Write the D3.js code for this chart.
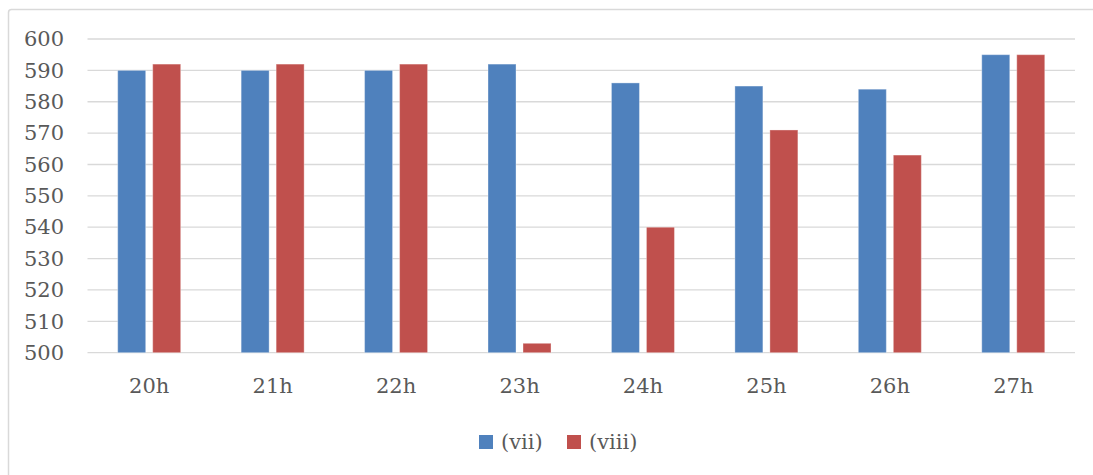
<!DOCTYPE html>
<html><head><meta charset="utf-8">
<script src="https://cdn.jsdelivr.net/npm/d3@7"></script>
<style>body{margin:0;background:#fff}svg{display:block}</style>
</head><body>
<svg id="c" width="1093" height="475"></svg>
<script>
const categories = ["20h","21h","22h","23h","24h","25h","26h","27h"];
const seriesNames = ["(vii)","(viii)"];
const vii  = [590,590,590,592,586,585,584,595];
const viii = [592,592,592,503,540,571,563,595];
const yTicks = [500,510,520,530,540,550,560,570,580,590,600];
const colors = ["#4F81BD","#C0504D"];

(function(){
const svg = d3.select("#c");
const font = "'DejaVu Serif', serif";
const fs = 21;
const textColor = "#595959";

// outer frame
svg.append("rect").attr("x",8.5).attr("y",9.5).attr("width",1200).attr("height",600)
  .attr("rx",3).attr("fill","#fff").attr("stroke","#d9d9d9").attr("stroke-width",1.5);

const pL = 87.5, pR = 1075, pT = 39, pB = 352.7;
const x0 = d3.scaleBand().domain(categories).range([pL,pR]).padding(0);
const x1 = d3.scaleBand().domain(seriesNames).range([30.2,93.2]).paddingInner(0.2).paddingOuter(0);
const y = d3.scaleLinear().domain([500,600]).range([pB,pT]);

// gridlines
svg.append("g").selectAll("line").data(yTicks).join("line")
  .attr("x1",pL).attr("x2",pR)
  .attr("y1",d=>y(d)).attr("y2",d=>y(d))
  .attr("stroke","#d9d9d9").attr("stroke-width",1.3);

// y axis labels
const yAxis = d3.axisLeft(y).tickValues(yTicks).tickSize(0).tickPadding(0);
const gy = svg.append("g").attr("transform",`translate(64,0)`).call(yAxis);
gy.select(".domain").remove();
gy.selectAll("text").attr("font-family",font).attr("font-size",fs).attr("fill",textColor);

// bars
const data = categories.map((c,i)=>({cat:c, vals:[vii[i],viii[i]]}));
const groups = svg.append("g").selectAll("g").data(data).join("g")
  .attr("transform",d=>`translate(${x0(d.cat)},0)`);
groups.selectAll("rect").data(d=>d.vals.map((v,j)=>({v,j})))
  .join("rect")
  .attr("x",d=>x1(seriesNames[d.j]))
  .attr("width",x1.bandwidth())
  .attr("y",d=>y(d.v))
  .attr("height",d=>y(500)-y(d.v))
  .attr("fill",d=>colors[d.j])
  .attr("stroke","#ffffff").attr("stroke-opacity",0.35).attr("stroke-width",1);

// x axis labels
const xAxis = d3.axisBottom(x0).tickSize(0).tickPadding(0);
const gx = svg.append("g").attr("transform",`translate(0,${pB+25})`).call(xAxis);
gx.select(".domain").remove();
gx.selectAll("text").attr("font-family",font).attr("font-size",fs).attr("fill",textColor)
  .attr("dy","0.71em").attr("y",0);

// legend
const legend = svg.append("g");
const legendItems = [{name:seriesNames[0],x:479},{name:seriesNames[1],x:567}];
legendItems.forEach((it,i)=>{
  legend.append("rect").attr("x",it.x).attr("y",435).attr("width",14).attr("height",14).attr("fill",colors[i]);
  legend.append("text").attr("x",it.x+22).attr("y",442).attr("dy","0.35em")
    .attr("font-family",font).attr("font-size",fs).attr("fill",textColor).text(it.name);
});
})();
</script>
</body></html>
